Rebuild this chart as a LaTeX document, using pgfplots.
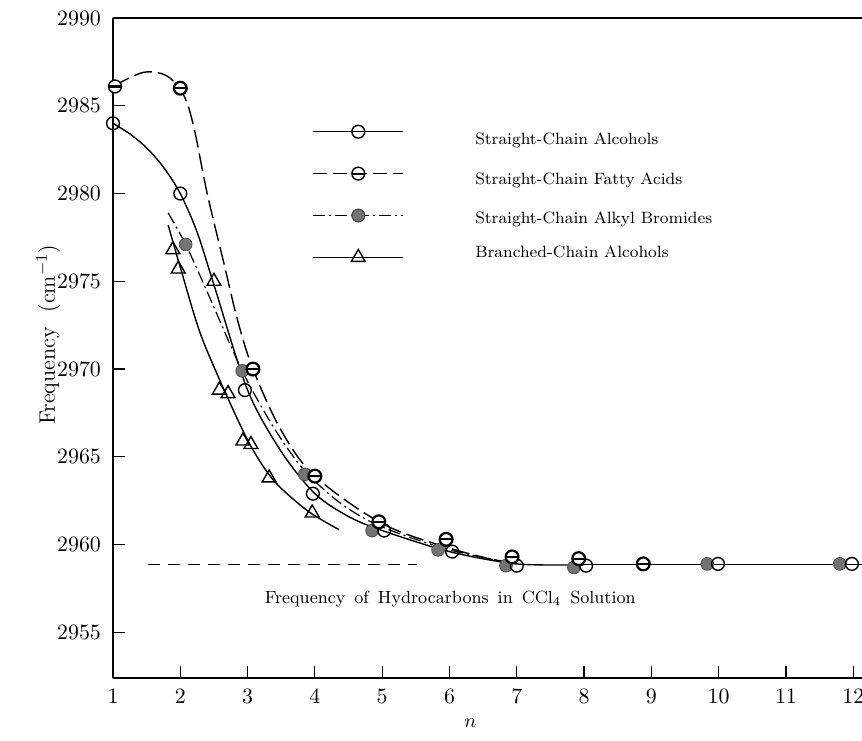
\documentclass[border=0pt]{standalone}
\usepackage{pgfplots}
\pgfplotsset{compat=1.18}
\pgfdeclareplotmark{thetacirc}{%
  \pgfpathcircle{\pgfpointorigin}{\pgfplotmarksize}%
  \pgfusepathqfillstroke
  \pgfsetdash{}{0pt}%
  \pgfsetlinewidth{1.1pt}%
  \pgfpathmoveto{\pgfqpoint{-\pgfplotmarksize}{0pt}}%
  \pgfpathlineto{\pgfqpoint{\pgfplotmarksize}{0pt}}%
  \pgfusepathqstroke
}
\newcommand\lgtext[2]{\raisebox{#1}[6pt][2pt]{#2}}
\begin{document}
\begin{tikzpicture}
\useasboundingbox (-56.5pt,-31pt) rectangle (374.5pt,339pt);
\begin{axis}[
  scale only axis, width=374.5pt, height=330pt,
  xmin=1, xmax=12.13, ymin=2952.4, ymax=2990,
  axis x line*=box, axis y line*=left,
  xtick pos=bottom,
  xtick={1,...,12}, ytick={2955,2960,...,2990},
  tick align=inside, major tick length=6pt,
  every tick/.style={black, line width=0.6pt},
  axis line style={black, line width=0.7pt},
  tick label style={font=\fontsize{10.5}{12}\selectfont},
  y tick label style={/pgf/number format/1000 sep={}, xshift=-2.5pt},
  xticklabel style={yshift=-2pt},
  xlabel={$n$},
  xlabel style={at={(axis description cs:0.477,-0.068)}, anchor=center, font=\fontsize{10}{12}\selectfont},
  ylabel={Frequency\ \ (cm$^{-1}$)},
  ylabel style={at={(axis description cs:-0.086,0.52)}, anchor=center, font=\fontsize{11.2}{13}\selectfont},
  legend style={draw=none, fill=none, at={(axis cs:3.96,2984.2)}, anchor=north west,
    font=\fontsize{8.2}{10}\selectfont, row sep=7.2pt, inner sep=0pt,
    cells={anchor=west}},
  legend cell align=left,
  legend image code/.code={%
    \draw[#1, mark repeat=2, mark phase=2] plot coordinates {(0pt,0pt) (22.5pt,0pt) (45pt,0pt)};
    \path[draw=none, fill=none] (0pt,-8pt) rectangle (79pt,3pt);
  },
]
% legend entries
\addlegendimage{black, line width=0.7pt, mark=o, mark size=3.2pt, mark options={fill=white, solid}}
\addlegendentry{\lgtext{-4pt}{Straight-Chain Alcohols}}
\addlegendimage{black, line width=0.7pt, dash pattern=on 7pt off 3pt, mark=thetacirc, mark size=3.2pt, mark options={fill=white, solid}}
\addlegendentry{\lgtext{-3pt}{Straight-Chain Fatty Acids}}
\addlegendimage{black, line width=0.6pt, dash pattern=on 6pt off 2pt on 1pt off 2pt, mark=*, mark size=3.2pt, mark options={fill=black!55, draw=black!70, solid}}
\addlegendentry{\lgtext{-1.5pt}{Straight-Chain Alkyl Bromides}}
\addlegendimage{black, line width=0.7pt, mark=triangle, mark size=4pt, mark options={fill=white, solid}}
\addlegendentry{\lgtext{2pt}{Branched-Chain Alcohols}}

% hydrocarbon reference line
\addplot[forget plot, black, line width=0.6pt, dash pattern=on 6pt off 4pt] coordinates {(1.52,2958.85) (5.52,2958.85)};

% fitted curves
\addplot[forget plot, black, line width=0.7pt, smooth, tension=0.5] coordinates {
(1,2984.0) (1.25,2983.4) (1.5,2982.6) (1.75,2981.5) (2,2980.0) (2.25,2977.8) (2.5,2974.8) (3,2968.8) (3.5,2965.3) (4,2962.9) (4.5,2961.6) (5,2960.8) (6,2959.6) (7,2958.9) (8,2958.85)};
\addplot[forget plot, black, line width=0.7pt] coordinates {(8,2958.85) (12.13,2958.85)};
\addplot[forget plot, black, line width=0.7pt, dash pattern=on 9pt off 3pt, smooth, tension=0.55] coordinates {
(1.0,2986.1) (1.45,2986.9) (1.8,2986.7) (2.05,2985.6) (2.2,2983.8) (2.4,2980.0) (2.65,2976.0) (2.85,2972.8) (3.08,2970.0) (3.5,2966.5) (4,2963.9) (5,2961.2) (6,2959.8) (6.8,2959.0)};
\addplot[forget plot, black, line width=0.6pt, dash pattern=on 6pt off 2pt on 1pt off 2pt, smooth, tension=0.5] coordinates {
(1.82,2978.9) (2.08,2977.1) (2.4,2974.4) (2.92,2969.9) (3.4,2966.6) (3.85,2964.2) (4.4,2962.3) (5,2961.0) (6,2959.7) (7,2958.9)};
\addplot[forget plot, black, line width=0.7pt, smooth, tension=0.5] coordinates {
(1.82,2978.2) (2.0,2975.8) (2.3,2972.0) (2.7,2968.4) (3.05,2965.6) (3.4,2963.6) (3.9,2961.9) (4.36,2960.85)};

% data points
\addplot[forget plot, only marks, mark=*, mark size=3.2pt, mark options={fill=black!55, draw=black!70}] coordinates {
(2.08,2977.1) (2.92,2969.9) (3.85,2964.0) (4.85,2960.8) (5.83,2959.7) (6.84,2958.8) (7.85,2958.7) (9.83,2958.9) (11.8,2958.9)};
\addplot[forget plot, only marks, mark=o, mark size=3.2pt, line width=0.7pt, mark options={fill=white}] coordinates {
(1,2984.0) (2,2980.0) (2.96,2968.8) (3.97,2962.9) (5.03,2960.8) (6.04,2959.6) (7.0,2958.8) (8.03,2958.8) (9.99,2958.9) (11.98,2958.9)};
\addplot[forget plot, only marks, mark=thetacirc, mark size=3.2pt, line width=0.7pt, mark options={fill=white}] coordinates {
(1.03,2986.1) (2.0,2986.0) (3.08,2970.0) (4.0,2963.9) (4.95,2961.3) (5.95,2960.3) (6.93,2959.3) (7.92,2959.2) (8.88,2958.9)};
\addplot[forget plot, only marks, mark=triangle, mark size=4pt, line width=0.7pt, mark options={fill=white}] coordinates {
(1.89,2976.8) (1.97,2975.7) (2.50,2975.0) (2.58,2968.8) (2.71,2968.6) (2.93,2965.9) (3.05,2965.7) (3.32,2963.8) (3.96,2961.8)};

\node[anchor=west, font=\fontsize{8.8}{10}\selectfont] at (axis cs:3.15,2956.9) {\spaceskip=4.5pt Frequency of Hydrocarbons in CCl$_4$ Solution};
\end{axis}
\end{tikzpicture}
\end{document}
